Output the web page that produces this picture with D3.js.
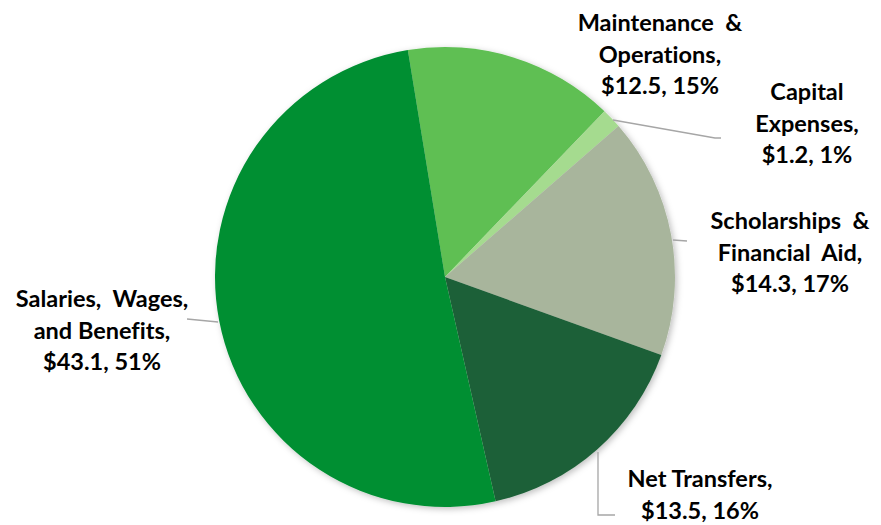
<!DOCTYPE html>
<html><head><meta charset="utf-8">
<script src="https://cdn.jsdelivr.net/npm/d3@7"></script>
<style>body{margin:0;background:#fff}svg{display:block}</style>
</head><body>
<script>
const categories = ["Maintenance & Operations", "Capital Expenses", "Scholarships & Financial Aid", "Net Transfers", "Salaries, Wages, and Benefits"];
const values = [12.5, 1.2, 14.3, 13.5, 43.1];
const percents = ["15%", "1%", "17%", "16%", "51%"];
const labelLines = [
  ["Maintenance  &", "Operations,", "$12.5, 15%"],
  ["Capital", "Expenses,", "$1.2, 1%"],
  ["Scholarships  &", "Financial  Aid,", "$14.3, 17%"],
  ["Net Transfers,", "$13.5, 16%"],
  ["Salaries,  Wages,", "and Benefits,", "$43.1, 51%"]
];
const colors = ["#5ebf53", "#a5db8f", "#a8b59c", "#1f6038", "#068f33"];

const W = 881, H = 525, cx = 445, cy = 277, R = 230;
const svg = d3.select("body").append("svg").attr("width", W).attr("height", H);
const defs = svg.append("defs");
const f = defs.append("filter").attr("id","sh").attr("x","-10%").attr("y","-10%").attr("width","120%").attr("height","120%");
f.append("feDropShadow").attr("dx",2).attr("dy",2).attr("stdDeviation",3).attr("flood-color","#000").attr("flood-opacity",0.25);

const startA = -9.3 * Math.PI / 180;
const pie = d3.pie().sort(null).startAngle(startA).endAngle(startA + 2*Math.PI);
const arcs = pie(values);
const arc = d3.arc().innerRadius(0).outerRadius(R);
const g = svg.append("g").attr("transform", `translate(${cx},${cy})`);
g.append("g").attr("filter","url(#sh)").selectAll("path").data(arcs).join("path")
  .attr("d", arc).attr("fill", (d,i) => colors[i]);

// label anchor positions (center x, first baseline y)
const labelPos = [[660, 31], [807, 100], [790, 229], [700, 487], [102, 307]];
// leader lines
const leaders = [
  null,
  [[613,120],[715,138],[721,138]],
  [[673,240],[687,241]],
  [[598,452],[598,515],[615,515]],
  [[218,322],[187,319]]
];
svg.append("g").selectAll("path").data(leaders.filter(d=>d)).join("path")
  .attr("d", d => d3.line()(d)).attr("fill","none").attr("stroke","#a6a6a6").attr("stroke-width",1.3);

const lg = svg.append("g").attr("font-family","Lato, 'Open Sans', sans-serif").attr("font-weight","bold")
  .attr("font-size", 23.5).attr("fill","#000").attr("text-anchor","middle")
  .style("font-variant-ligatures","none");
labelLines.forEach((lines, i) => {
  const t = lg.append("text").attr("x", labelPos[i][0]).attr("y", labelPos[i][1]).style("white-space","pre");
  lines.forEach((l, j) => t.append("tspan").attr("x", labelPos[i][0]).attr("dy", j===0?0:31.5).text(l));
});
</script>
</body></html>
